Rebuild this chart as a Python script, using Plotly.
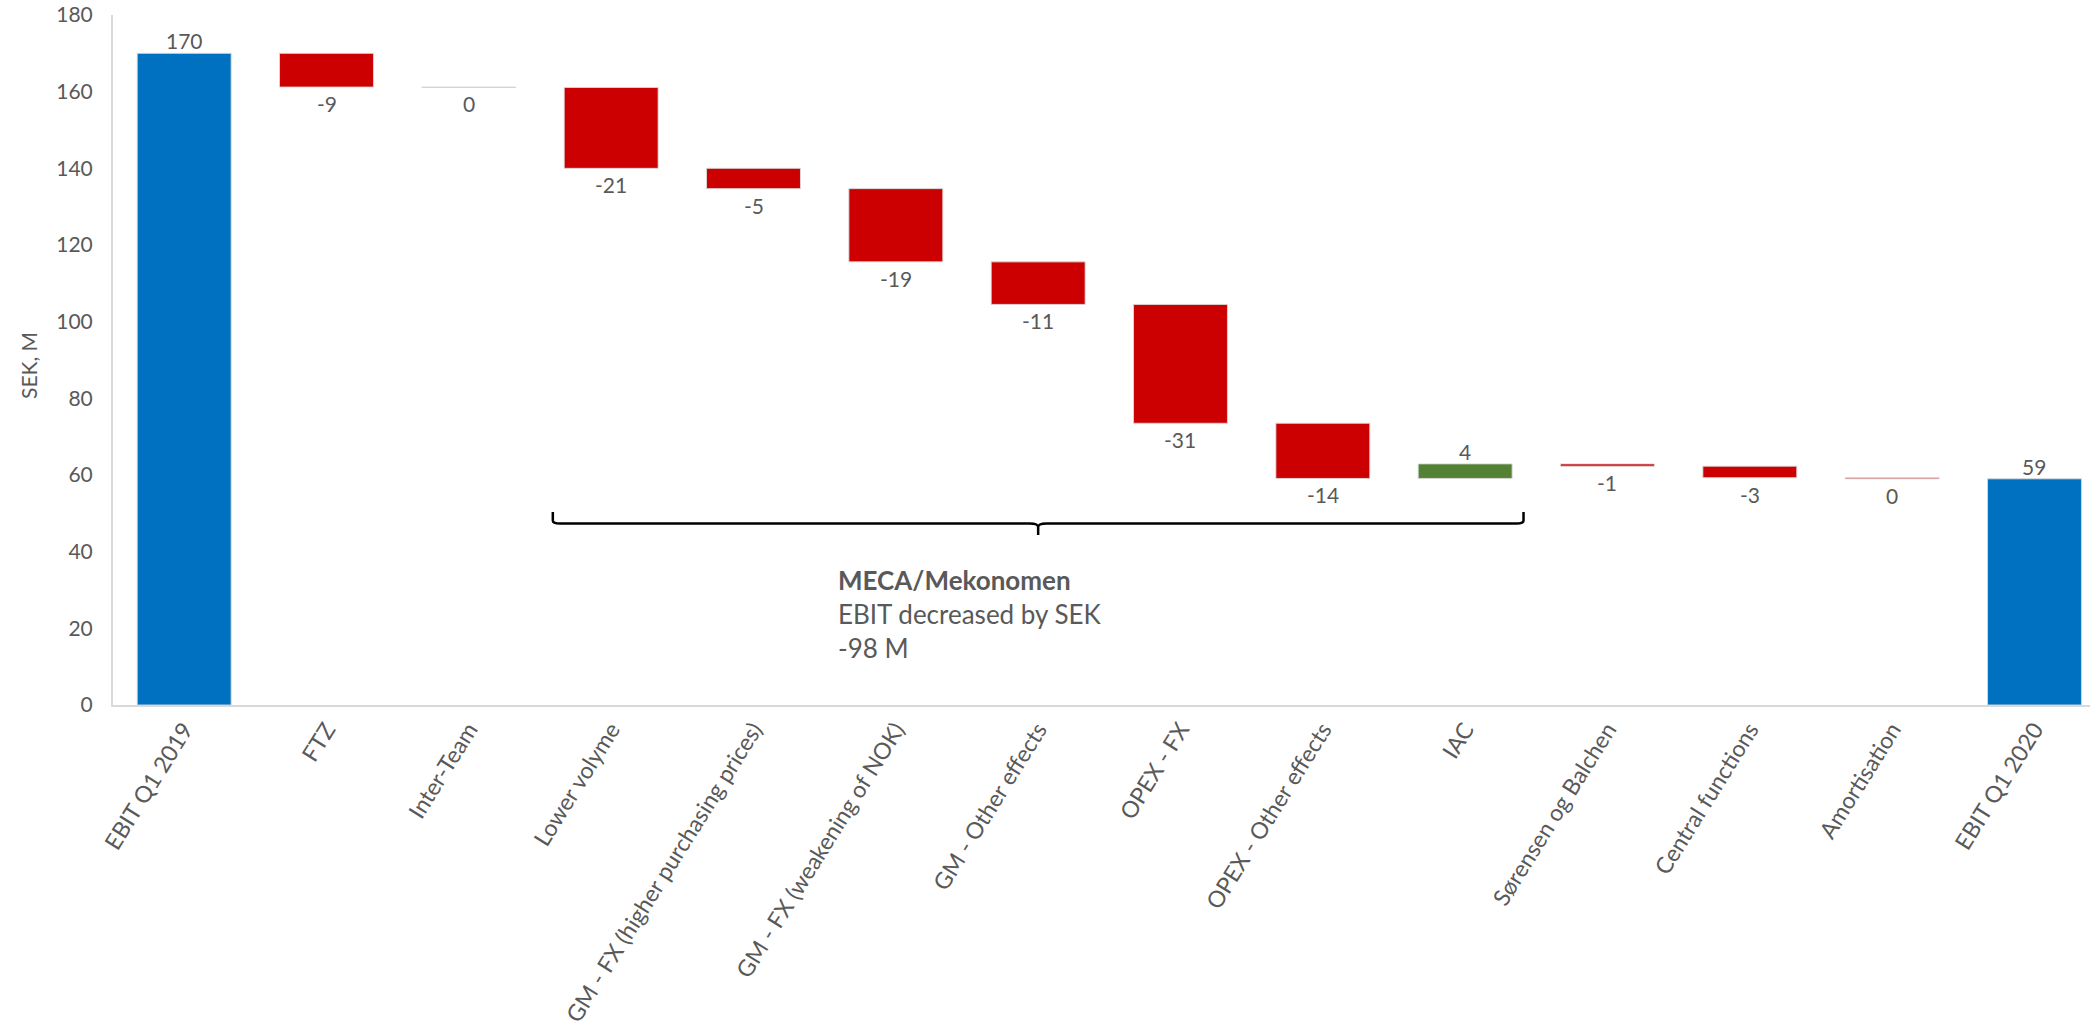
import plotly.graph_objects as go

categories = [
    "EBIT Q1 2019", "FTZ", "Inter-Team", "Lower volyme",
    "GM - FX (higher purchasing prices)", "GM - FX (weakening of NOK)",
    "GM - Other effects", "OPEX - FX", "OPEX - Other effects", "IAC",
    "Sørensen og Balchen", "Central functions", "Amortisation", "EBIT Q1 2020",
]
measures = ["absolute"] + ["relative"] * 12 + ["total"]
values = [170.0, -8.8, -0.1, -21.1, -5.3, -19.1, -11.1, -31.0, -14.4, 3.8, -0.6, -3.0, -0.3, None]

# MECA/Mekonomen group spans these categories
group_first = "Lower volyme"
group_last = "IAC"
group_title = "MECA/Mekonomen"
y_ticks = [0, 20, 40, 60, 80, 100, 120, 140, 160, 180]

BLUE = "#0070C0"
RED = "#CC0000"
GREEN = "#548235"
GREY_TXT = "#595959"
FONT = "Lato"

bases, heights, colors, ends = [], [], [], []
running = 0.0
for m, v in zip(measures, values):
    if m == "absolute":
        running = v
        bases.append(0); heights.append(v); colors.append(BLUE)
    elif m == "total":
        bases.append(0); heights.append(running); colors.append(BLUE)
    else:
        bases.append(running); heights.append(v)
        colors.append(RED if v < 0 else GREEN)
        running += v
    ends.append(bases[-1] + heights[-1])

fig = go.Figure()
fig.add_trace(go.Bar(
    x=categories, y=heights, base=bases,
    marker=dict(color=colors, line=dict(color="rgba(217,217,217,0.9)", width=1)),
    width=0.66, hoverinfo="skip", showlegend=False,
))

annotations = []
for c, b, h, e in zip(categories, bases, heights, ends):
    lab = int(round(h))
    below = h < 0
    annotations.append(dict(
        x=c, y=e, xref="x", yref="y", text=str(lab), showarrow=False,
        yanchor="top" if below else "bottom", yshift=-2,
        font=dict(family=FONT, size=21, color=GREY_TXT),
    ))

# group bracket
i0 = categories.index(group_first)
i1 = categories.index(group_last)
xl, xr = i0 - 0.41, i1 + 0.41
xm = (i0 + i1) / 2
yl, yt, yb = 47.35, 50.35, 44.35
path = (f"M {xl},{yt} L {xl},{yl+0.8} Q {xl},{yl} {xl+0.05},{yl} "
        f"L {xm-0.06},{yl} Q {xm},{yl} {xm},{yl-0.9} L {xm},{yb} "
        f"M {xm},{yl-0.9} Q {xm},{yl} {xm+0.06},{yl} "
        f"L {xr-0.05},{yl} Q {xr},{yl} {xr},{yl+0.8} L {xr},{yt}")
shapes = [dict(type="path", path=path, xref="x", yref="y",
               line=dict(color="black", width=2.5))]

group_sum = int(round(sum(v for v in values[i0:i1 + 1])))
annotations.append(dict(
    x=xm - 1.42, y=37.2, xref="x", yref="y", xanchor="left", yanchor="top",
    align="left", showarrow=False,
    text=f"<b>{group_title}</b><br>EBIT decreased by SEK<br>{group_sum} M",
    font=dict(family=FONT, size=26, color=GREY_TXT),
))
annotations.append(dict(
    x=0, y=0.5, xref="paper", yref="paper", xshift=-85, yshift=-6,
    xanchor="center", yanchor="middle", textangle=-90, showarrow=False,
    text="SEK, M", font=dict(family=FONT, size=21, color=GREY_TXT),
))

fig.update_layout(
    width=2090, height=1031,
    margin=dict(l=113, r=0, t=15, b=326),
    paper_bgcolor="white", plot_bgcolor="white",
    annotations=annotations, shapes=shapes,
    bargap=0.34,
)
fig.update_xaxes(
    type="category", range=[-0.5, 13.39], showline=True, linecolor="#d9d9d9",
    linewidth=2, ticks="", tickangle=-58, showgrid=False, zeroline=False,
    tickfont=dict(family=FONT, size=23, color=GREY_TXT),
)
fig.update_yaxes(
    range=[0, 180], tickvals=y_ticks, showline=True, linecolor="#d9d9d9",
    linewidth=2, ticks="", showgrid=False, zeroline=False,
    ticklabelstandoff=14,
    tickfont=dict(family=FONT, size=21, color=GREY_TXT),
)

fig.write_html("out.html")
